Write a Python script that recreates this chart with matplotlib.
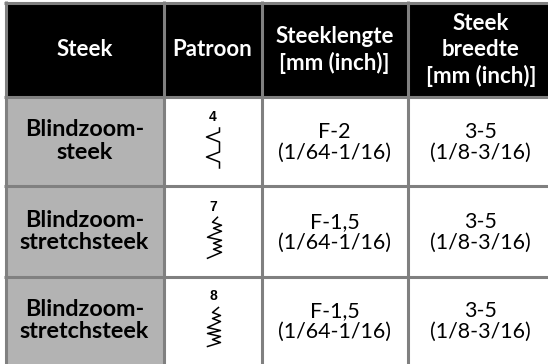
import matplotlib
matplotlib.use('Agg')
from matplotlib import pyplot as plt
from matplotlib.patches import Rectangle

W, H = 548, 364
header = ['Steek', 'Patroon', 'Steeklengte\n[mm (inch)]', 'Steek\nbreedte\n[mm (inch)]']
names = ['Blindzoom-\nsteek', 'Blindzoom-\nstretchsteek', 'Blindzoom-\nstretchsteek']
numbers = ['4', '7', '8']
lengths = ['F-2\n(1/64-1/16)', 'F-1,5\n(1/64-1/16)', 'F-1,5\n(1/64-1/16)']
widths = ['3-5\n(1/8-3/16)', '3-5\n(1/8-3/16)', '3-5\n(1/8-3/16)']

# stitch shapes, px offset from the centre of the pattern cell
stitch4 = [(7, -13), (7, -9), (-6, -4), (7, 1), (7, 11), (-6, 16), (7, 21), (7, 27)]
stitch7 = [(5, -14), (0, -9), (9, -6), (1, -3), (9, 0), (1, 3), (-5, 6), (9, 9), (1, 12), (9, 15), (1, 18), (9, 21), (-5, 27)]
stitch8 = [(6, -13), (0, -8), (8, -5), (0, -2), (8, 1), (-5, 7), (8, 10), (-5, 13), (8, 16), (0, 19), (8, 22), (-5, 26)]
stitches = [stitch4, stitch7, stitch8]

xs = [5.5, 163.5, 261.5, 407.5, 554]  # last one is past the crop edge
ys = [2.5, 96.5, 185.5, 277, 364]
grey = '#808080'

fig = plt.figure(figsize=(W / 100, H / 100), dpi=100)
ax = fig.add_axes([0, 0, 1, 1])
ax.set_xlim(0, W)
ax.set_ylim(H, 0)
ax.axis('off')

ax.add_patch(Rectangle((xs[0], ys[0]), xs[-1] - xs[0], ys[1] - ys[0], color='black', lw=0))
ax.add_patch(Rectangle((xs[0], ys[1]), xs[1] - xs[0], ys[-1] - ys[1], color='#b3b3b3', lw=0))
for x in xs[:-1]:
    ax.plot([x, x], [ys[0] - 1.5, ys[-1]], color=grey, lw=2.2, solid_capstyle='butt')
for y in ys[:-1]:
    ax.plot([xs[0] - 1.5, xs[-1]], [y, y], color=grey, lw=2.2, solid_capstyle='butt')

bold = dict(family='Lato', weight='bold', ha='center', va='center')
reg = dict(family='Lato', ha='center', va='center', linespacing=1.05, fontsize=15.4)
for i, h in enumerate(header):
    cx = (xs[i] + xs[i + 1]) / 2
    ax.text(cx, (ys[0] + ys[1]) / 2 + 0.5, h, color='white', fontsize=16, linespacing=1.3, **bold)

for r in range(3):
    cy = (ys[r + 1] + ys[r + 2]) / 2
    ax.text((xs[0] + xs[1]) / 2, cy, names[r], color='black', fontsize=16.8, linespacing=1.08, **bold)
    cx = (xs[1] + xs[2]) / 2
    ax.text(cx + 0.5, cy - 24, numbers[r], color='black', fontsize=10, family='Liberation Sans',
            weight='bold', ha='center', va='center')
    px = [cx + p[0] for p in stitches[r]]
    py = [cy + p[1] for p in stitches[r]]
    ax.plot(px, py, color='black', lw=1.1)
    ax.text((xs[2] + xs[3]) / 2, cy + 1, lengths[r], color='black', **reg)
    ax.text((xs[3] + xs[4]) / 2, cy + 1, widths[r], color='black', **reg)

fig.savefig('out.png', dpi=100)
